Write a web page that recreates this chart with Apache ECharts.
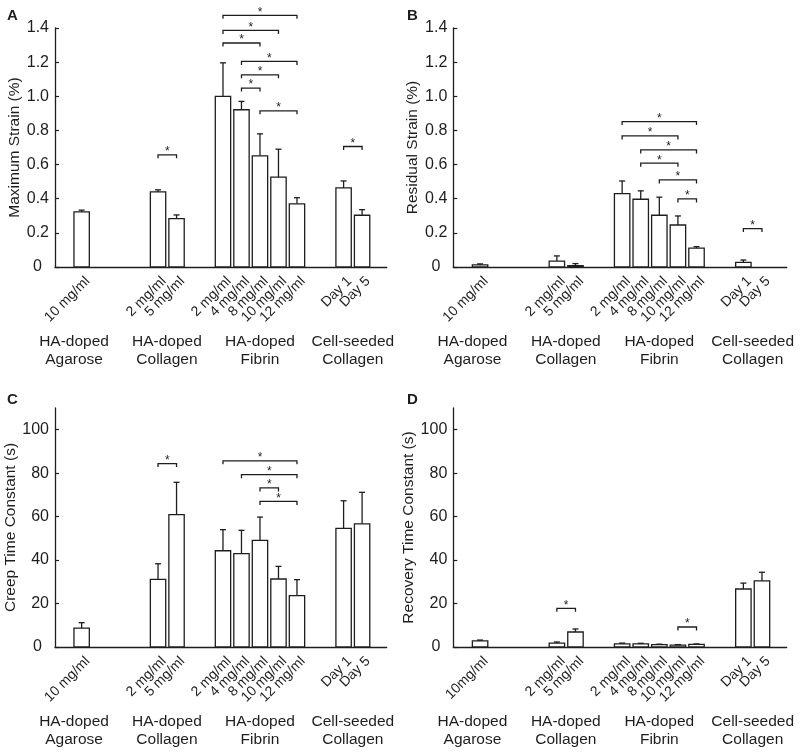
<!DOCTYPE html>
<html><head><meta charset="utf-8">
<script src="https://cdn.jsdelivr.net/npm/echarts@6/dist/echarts.min.js"></script>
<style>html,body{margin:0;padding:0;background:#fff}#c{width:800px;height:755px}</style>
</head><body><div id="c"></div>
<script>
const FONT = "'Liberation Sans', Arial, sans-serif";

// ---- data ----
const categories = ['10 mg/ml', '2 mg/ml', '5 mg/ml', '2 mg/ml', '4 mg/ml', '8 mg/ml', '10 mg/ml', '12 mg/ml', 'Day 1', 'Day 5'];
const categoriesD = ['10mg/ml', '2 mg/ml', '5 mg/ml', '2 mg/ml', '4 mg/ml', '8 mg/ml', '10 mg/ml', '12 mg/ml', 'Day 1', 'Day 5'];
const xPositions = [1.44, 5.57, 6.57, 9.08, 10.08, 11.08, 12.08, 13.08, 15.6, 16.6];
const groups = ['HA-doped\nAgarose', 'HA-doped\nCollagen', 'HA-doped\nFibrin', 'Cell-seeded\nCollagen'];
const groupPositions = [1.03, 6.05, 11.08, 16.1];

const maxStrain = [0.323, 0.44, 0.283, 1.0, 0.921, 0.651, 0.526, 0.37, 0.463, 0.303];
const maxStrainErr = [0.01, 0.012, 0.022, 0.196, 0.049, 0.129, 0.164, 0.036, 0.041, 0.033];
const residualStrain = [0.012, 0.035, 0.008, 0.43, 0.397, 0.303, 0.246, 0.111, 0.027, 0];
const residualStrainErr = [0.006, 0.03, 0.012, 0.074, 0.049, 0.106, 0.053, 0.008, 0.014, 0];
const creepTime = [8.7, 31.1, 60.9, 44.3, 43.0, 49.1, 31.3, 23.6, 54.6, 56.7];
const creepTimeErr = [2.5, 7.2, 14.9, 9.7, 10.7, 10.7, 5.8, 7.4, 12.7, 14.5];
const recoveryTime = [2.8, 1.8, 6.9, 1.4, 1.4, 1.1, 0.9, 1.2, 26.7, 30.4];
const recoveryTimeErr = [0.4, 0.5, 1.4, 0.4, 0.3, 0.2, 0.2, 0.2, 2.7, 4.0];

// significance brackets: [bar index from, bar index to, height]
const bracketsA = [[3, 7, 1.474], [3, 6, 1.386], [3, 5, 1.312], [4, 7, 1.204], [4, 6, 1.126], [4, 5, 1.048], [5, 7, 0.915], [1, 2, 0.657], [8, 9, 0.706]];
const bracketsB = [[3, 7, 0.852], [3, 6, 0.768], [4, 7, 0.686], [4, 6, 0.608], [5, 7, 0.51], [6, 7, 0.399], [8, 9, 0.225]];
const bracketsC = [[1, 2, 84.4], [3, 7, 85.7], [4, 7, 79.3], [5, 6, 73.2], [5, 7, 67.0]];
const bracketsD = [[1, 2, 17.8], [6, 7, 9.2]];

const strainTicks = [0, 0.2, 0.4, 0.6, 0.8, 1.0, 1.2, 1.4];
const timeTicks = [0, 20, 40, 60, 80, 100];

// ---- layout ----
const panels = [
  { letter: 'A', name: 'Maximum Strain (%)', vals: maxStrain, errs: maxStrainErr, br: bracketsA, labels: categories,
    grid: { left: 55, right: 413.3, top: 28, bottom: 488 }, max: 1.4, interval: 0.2, ticks: strainTicks, dec: 1, gap: 30, lx: 7, ly: 8 },
  { letter: 'B', name: 'Residual Strain (%)', vals: residualStrain, errs: residualStrainErr, br: bracketsB, labels: categories,
    grid: { left: 453.3, right: 13.3, top: 28, bottom: 488 }, max: 1.4, interval: 0.2, ticks: strainTicks, dec: 1, gap: 32, lx: 407, ly: 8 },
  { letter: 'C', name: 'Creep Time Constant (s)', vals: creepTime, errs: creepTimeErr, br: bracketsC, labels: categories,
    grid: { left: 55, right: 413.3, top: 408, bottom: 108 }, max: 110, interval: 20, ticks: timeTicks, dec: 0, gap: 30, lx: 7, ly: 392 },
  { letter: 'D', name: 'Recovery Time Constant (s)', vals: recoveryTime, errs: recoveryTimeErr, br: bracketsD, labels: categoriesD,
    grid: { left: 453.3, right: 13.3, top: 408, bottom: 108 }, max: 110, interval: 20, ticks: timeTicks, dec: 0, gap: 33, lx: 407, ly: 392 }
];

const INK = '#1e1e1e';
const BAR_W = 0.83;

const option = {
  animation: false,
  backgroundColor: '#fff',
  textStyle: { fontFamily: FONT },
  grid: panels.map(p => Object.assign({ containLabel: false }, p.grid)),
  xAxis: panels.map((p, i) => ({
    type: 'value', gridIndex: i, min: 0, max: 17.93,
    axisLine: { show: true, onZero: false, lineStyle: { color: INK, width: 1.3 } },
    axisTick: { show: false }, axisLabel: { show: false }, splitLine: { show: false }
  })),
  yAxis: panels.map((p, i) => ({
    type: 'value', gridIndex: i, min: 0, max: p.max, interval: p.interval,
    name: p.name, nameLocation: 'middle', nameGap: p.gap,
    nameTextStyle: { fontSize: 15.5, color: INK, fontFamily: FONT },
    axisLine: { show: true, lineStyle: { color: INK, width: 1.3 } },
    axisTick: { show: true, inside: true, length: 4, lineStyle: { color: INK, width: 1.2 }, customValues: p.ticks },
    axisLabel: {
      color: INK, fontSize: 16, margin: 6, fontFamily: FONT, customValues: p.ticks,
      formatter: v => (v > p.ticks[p.ticks.length - 1] + 1e-9) ? '' : (Math.abs(v) < 1e-9 ? '{z|0}' : v.toFixed(p.dec)),
      rich: { z: { fontSize: 16, color: INK, fontFamily: FONT, padding: [0, 7, 0, 0] } }
    },
    splitLine: { show: false }
  })),
  graphic: panels.map(p => ({
    type: 'text', left: p.lx, top: p.ly,
    style: { text: p.letter, font: 'bold 15px ' + FONT, fill: INK }
  })),
  series: []
};

panels.forEach((p, i) => {
  // bars + error bars + rotated tick labels
  option.series.push({
    type: 'custom', xAxisIndex: i, yAxisIndex: i, clip: false,
    encode: { x: 0, y: 1 },
    data: xPositions.map((x, k) => [x, p.vals[k], p.errs[k], k]),
    renderItem: (params, api) => {
      const x = api.value(0), v = api.value(1), e = api.value(2), k = api.value(3);
      const base = api.coord([x, 0]);
      const top = api.coord([x, v]);
      const etop = api.coord([x, v + e]);
      const w = api.size([BAR_W, 0])[0];
      const children = [];
      if (v > 0) {
        children.push({
          type: 'rect', shape: { x: base[0] - w / 2, y: top[1], width: w, height: base[1] - top[1] },
          style: { fill: '#fff', stroke: INK, lineWidth: 1.3 }
        });
      }
      if (e > 0) {
        children.push({ type: 'line', shape: { x1: top[0], y1: top[1], x2: etop[0], y2: etop[1] }, style: { stroke: INK, lineWidth: 1.3 } });
        children.push({ type: 'line', shape: { x1: etop[0] - 3, y1: etop[1], x2: etop[0] + 3, y2: etop[1] }, style: { stroke: INK, lineWidth: 1.3 } });
      }
      children.push({
        type: 'text', x: base[0] + 6, y: base[1] + 12, rotation: Math.PI / 4,
        style: { text: p.labels[k], fontSize: 14, fontFamily: FONT, fill: INK, align: 'right', verticalAlign: 'middle' }
      });
      return { type: 'group', children };
    }
  });
  // group labels
  option.series.push({
    type: 'custom', xAxisIndex: i, yAxisIndex: i, clip: false,
    encode: { x: 0, y: 1 },
    data: groupPositions.map((x, k) => [x, 0, k]),
    renderItem: (params, api) => {
      const pt = api.coord([api.value(0), 0]);
      return {
        type: 'text', x: pt[0], y: pt[1] + 66,
        style: { text: groups[api.value(2)], fontSize: 15.5, lineHeight: 18, fontFamily: FONT, fill: INK, align: 'center', verticalAlign: 'top' }
      };
    }
  });
  // significance brackets
  option.series.push({
    type: 'custom', xAxisIndex: i, yAxisIndex: i, clip: false,
    encode: { x: [0, 1], y: 2 },
    data: p.br.map(b => [xPositions[b[0]], xPositions[b[1]], b[2]]),
    renderItem: (params, api) => {
      const a = api.coord([api.value(0), api.value(2)]);
      const b = api.coord([api.value(1), api.value(2)]);
      return {
        type: 'group', children: [
          { type: 'polyline', shape: { points: [[a[0], a[1] + 3.5], [a[0], a[1]], [b[0], b[1]], [b[0], b[1] + 3.5]] },
            style: { stroke: INK, lineWidth: 1.3, fill: null } },
          { type: 'text', x: (a[0] + b[0]) / 2, y: a[1] - 3,
            style: { text: '*', fontSize: 12, fontFamily: FONT, fill: INK, align: 'center', verticalAlign: 'middle' } }
        ]
      };
    }
  });
});

const chart = echarts.init(document.getElementById('c'), null, { renderer: 'canvas' });
chart.setOption(option);
</script>
</body></html>
